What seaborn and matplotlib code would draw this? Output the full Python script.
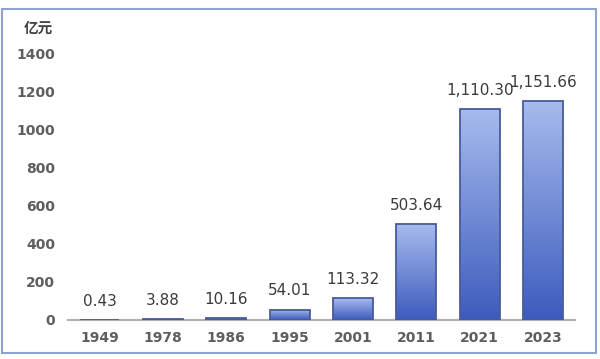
import numpy as np
import pandas as pd
import matplotlib
matplotlib.use("Agg")
import matplotlib.pyplot as plt
import matplotlib.colors as mcolors
from matplotlib.patches import Rectangle
import seaborn as sns

# data
years = ["1949", "1978", "1986", "1995", "2001", "2011", "2021", "2023"]
values = [0.43, 3.88, 10.16, 54.01, 113.32, 503.64, 1110.30, 1151.66]
yticks = [0, 200, 400, 600, 800, 1000, 1200, 1400]
unit = "亿元"

df = pd.DataFrame({"year": years, "value": values})

sns.set_theme(style="white")
plt.rcParams["font.family"] = ["DejaVu Sans", "Noto Sans CJK SC"]

fig = plt.figure(figsize=(6, 3.59), dpi=100)
ax = fig.add_axes([0.113, 0.109, 0.845, 0.741])

sns.barplot(data=df, x="year", y="value", color="#5a78cc", width=0.63,
            edgecolor="#4a5a9a", linewidth=1.3, ax=ax)

# vertical gradient inside each bar: light at top, dark at bottom
cmap = mcolors.LinearSegmentedColormap.from_list("bar", ["#3d5bbd", "#a6bbed"])
grad = np.linspace(0, 1, 256).reshape(-1, 1)
for p in ax.patches:
    x0, y0 = p.get_x(), p.get_y()
    w, h = p.get_width(), p.get_height()
    p.set_facecolor("none")
    p.set_zorder(3)
    im = ax.imshow(grad, cmap=cmap, origin="lower", aspect="auto",
                   extent=[x0, x0 + w, y0, y0 + h], zorder=2.9)
    im.set_clip_path(p)

ax.set_xlim(-0.5, 7.5)
ax.set_ylim(0, 1400)
ax.set_yticks(yticks)
ax.set_xlabel("")
ax.set_ylabel("")

# value labels above bars
for i, v in enumerate(values):
    ax.annotate(f"{v:,.2f}", (i, v), xytext=(0, 8), textcoords="offset points",
                ha="center", va="bottom", fontsize=11, color="#3a3a3a")

sns.despine(ax=ax, left=True)
ax.spines["bottom"].set_color("#b0b0b0")
ax.spines["bottom"].set_linewidth(1.5)
ax.spines["bottom"].set_zorder(2)
ax.tick_params(axis="both", length=0, labelsize=10, labelcolor="#5e5e5e")
ax.tick_params(axis="y", pad=9)
ax.tick_params(axis="x", pad=8)
for t in ax.get_yticklabels() + ax.get_xticklabels():
    t.set_fontweight("bold")

fig.text(0.04, 0.922, unit, fontsize=10.5, color="#444444", fontweight="bold",
         family=["Noto Sans CJK SC", "DejaVu Sans"], va="center", ha="left")

# light blue frame around the whole picture
fig.patches.append(Rectangle((0.004, 0.017), 0.99, 0.958, transform=fig.transFigure,
                             fill=False, edgecolor="#8fa3d0", linewidth=1.5))

fig.savefig("out.png", dpi=100)
